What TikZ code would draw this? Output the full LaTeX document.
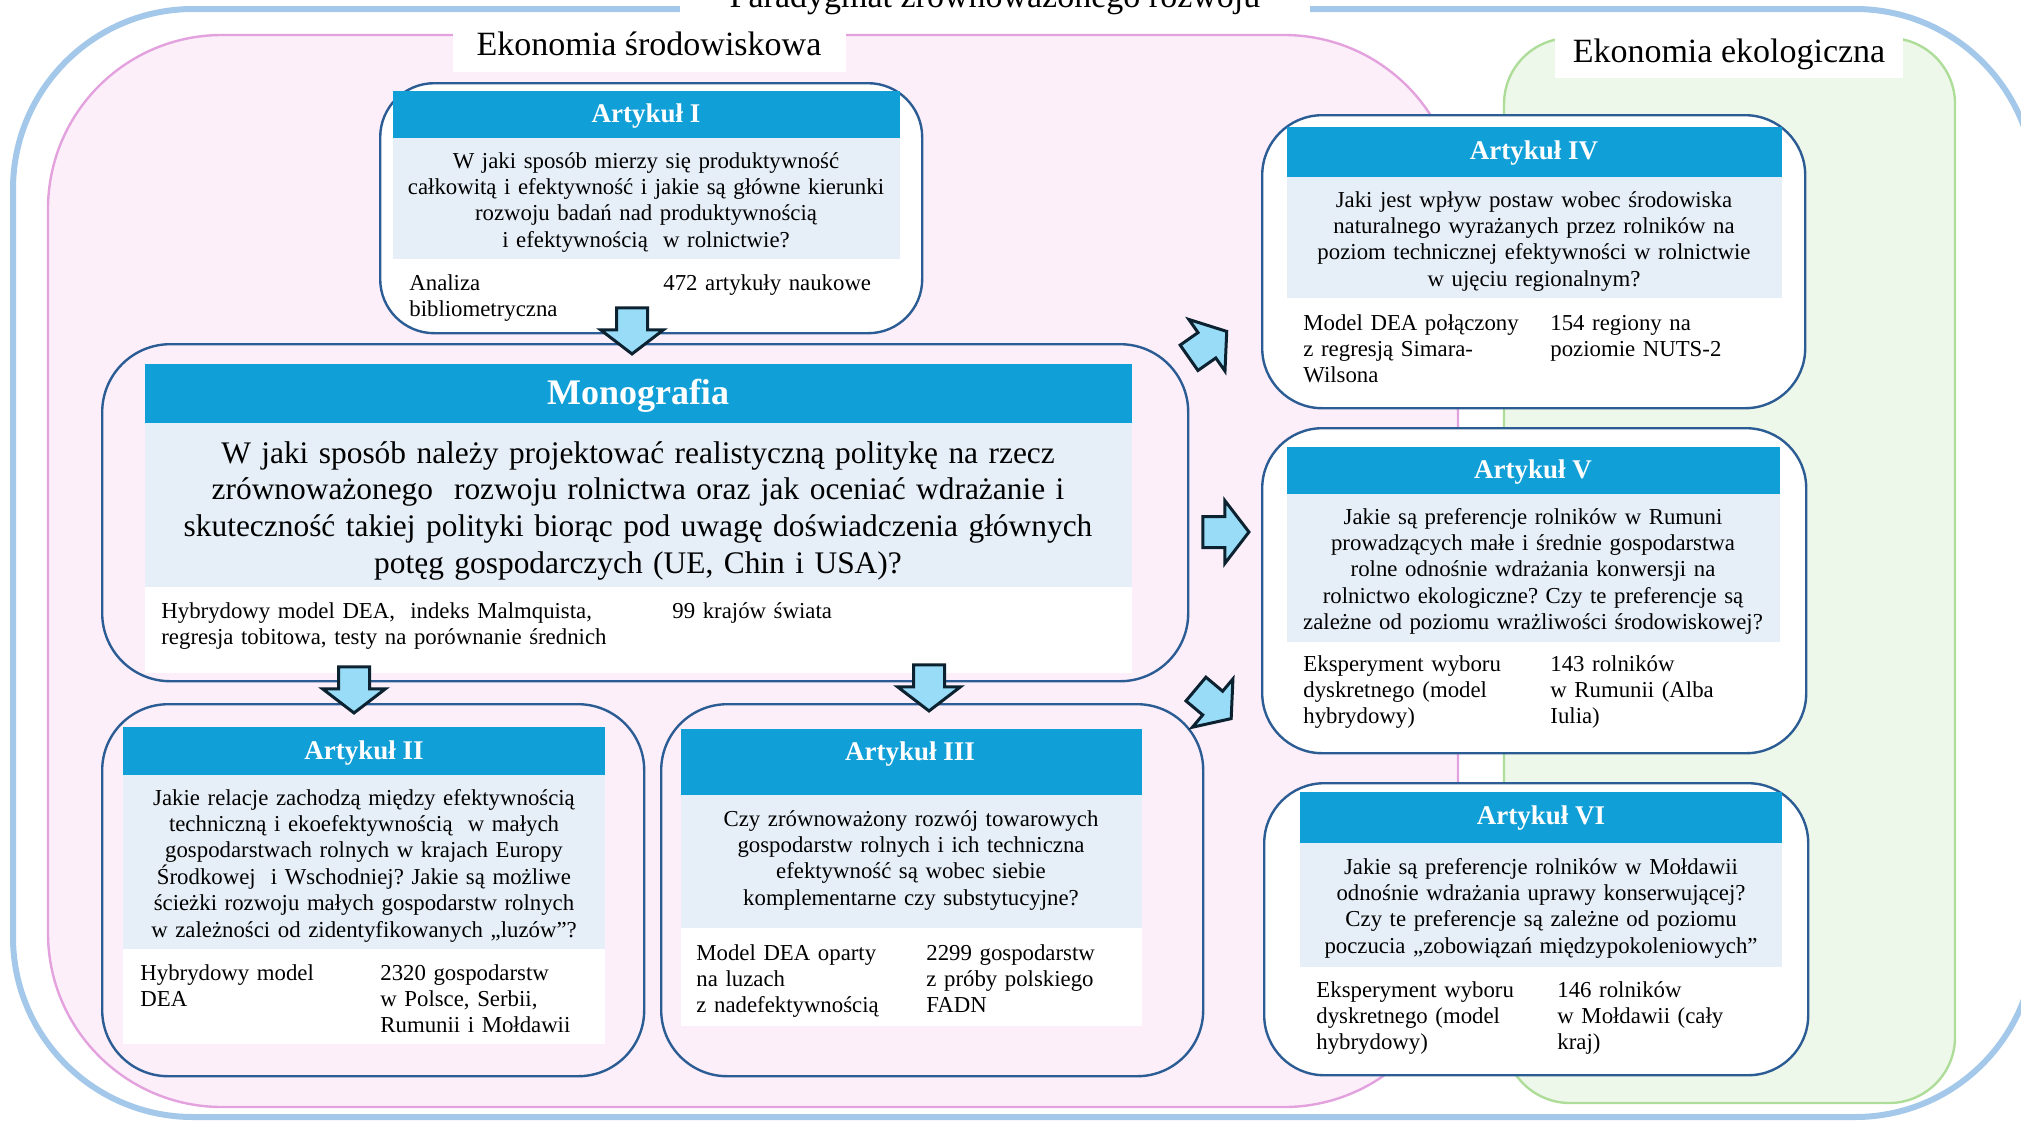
\documentclass[tikz,border=0pt]{standalone}
\usepackage{fontspec}
\setmainfont{Liberation Serif}
\usetikzlibrary{shapes.arrows}
\definecolor{outerblue}{HTML}{A4C8EA}
\definecolor{pinkfill}{HTML}{FCEFFA}
\definecolor{pinkline}{HTML}{E3A2DD}
\definecolor{greenfill}{HTML}{EEF8EA}
\definecolor{greenline}{HTML}{AEDD99}
\definecolor{boxline}{HTML}{2C5C94}
\definecolor{hdrblue}{HTML}{119FD7}
\definecolor{qfill}{HTML}{E6EEF7}
\definecolor{arrowfill}{HTML}{99DCF8}
\definecolor{arrowline}{HTML}{0D2230}
\frenchspacing
\begin{document}
\begin{tikzpicture}[x=0.5pt,y=-0.5pt,
  box/.style={draw=boxline,line width=1.2pt,rounded corners=30pt,inner sep=0pt,anchor=north west},
  qfont/.style={font=\fontsize{11.4}{13.2}\selectfont},
  qtext/.style={qfont,align=center,inner sep=0pt,anchor=base},
  mtext/.style={qfont,align=left,inner sep=0pt,anchor=base west,text width=125pt},
  htext/.style={font=\bfseries\fontsize{13.5}{16}\selectfont,text=white,inner sep=0pt},
  lbl/.style={font=\fontsize{17}{20}\selectfont,inner sep=0pt,anchor=base},
  barrow/.style={single arrow,draw=arrowline,fill=arrowfill,line width=1.5pt,inner sep=0pt,inner ysep=7pt,
    single arrow head extend=8pt,single arrow tip angle=105,minimum height=23pt}
]
\useasboundingbox (0,0) rectangle (2021,1120);
% outer frame
\draw[outerblue,line width=3pt,rounded corners=90pt] (13,9) rectangle (2035,1117);
\fill[white] (680,-5) rectangle (1310,22);
\node[lbl] (title) at (995,7) {Paradygmat zrównoważonego rozwoju};
% regions
\draw[pinkline,fill=pinkfill,line width=1.2pt,rounded corners=87pt] (48,35) rectangle (1458,1107);
\draw[greenline,fill=greenfill,line width=1.2pt,rounded corners=33pt] (1504,38) rectangle (1955,1103);
\fill[white] (453,32) rectangle (846,72);
\node[lbl] (envlbl) at (649,55) {Ekonomia środowiskowa};
\fill[white] (1555,28) rectangle (1903,78);
\node[lbl] (ecolbl) at (1729,62) {Ekonomia ekologiczna};

% ---------- Artykul I
\node[box,fill=white,rounded corners=27pt,minimum width=271pt,minimum height=125pt] (art1) at (379,82) {};
\fill[hdrblue] (393,91) rectangle (900,138);
\fill[qfill] (393,138) rectangle (900,259);
\node[htext] (h1) at (646,116) {Artykuł I};
\node[qtext,text width=253pt] (q1) at (646,168) {W jaki sposób mierzy się produktywność\\ całkowitą i efektywność i jakie są główne kierunki\\ rozwoju badań nad produktywnością\\ i efektywnością\ \ w rolnictwie?};
\node[mtext] (m1a) at (409,290) {Analiza\\bibliometryczna};
\node[mtext] (m1b) at (663,290) {472 artykuły naukowe};

% ---------- Monografia
\node[box,rounded corners=34pt,minimum width=543pt,minimum height=168.5pt] (mono) at (101,343) {};
\fill[hdrblue] (145,364) rectangle (1132,423);
\fill[qfill] (145,423) rectangle (1132,587);
\fill[white] (145,587) rectangle (1132,673);
\node[htext,font=\bfseries\fontsize{18}{21}\selectfont] (hm) at (638,396) {Monografia};
\node[qtext,font=\fontsize{15.7}{18.4}\selectfont,text width=493pt] (qm) at (638,463) {W jaki sposób należy projektować realistyczną politykę na rzecz\\ zrównoważonego\ \ rozwoju rolnictwa oraz jak oceniać wdrażanie i\\ skuteczność takiej polityki biorąc pod uwagę doświadczenia głównych\\ potęg gospodarczych (UE, Chin i USA)?};
\node[mtext,text width=250pt] (mma) at (161,618) {Hybrydowy model DEA,\ \ indeks Malmquista,\\ regresja tobitowa, testy na porównanie średnich};
\node[mtext] (mmb) at (672,618) {99 krajów świata};

% ---------- Artykul II
\node[box,rounded corners=33pt,minimum width=271pt,minimum height=186pt] (art2) at (101,703) {};
\fill[hdrblue] (123,727) rectangle (605,775);
\fill[qfill] (123,775) rectangle (605,949);
\fill[white] (123,949) rectangle (605,1044);
\node[htext] (h2) at (364,753) {Artykuł II};
\node[qtext,text width=241pt] (q2) at (364,805) {Jakie relacje zachodzą między efektywnością\\ techniczną i ekoefektywnością\ \ w małych\\ gospodarstwach rolnych w krajach Europy\\ Środkowej\ \ i Wschodniej? Jakie są możliwe\\ ścieżki rozwoju małych gospodarstw rolnych\\ w zależności od zidentyfikowanych „luzów”?};
\node[mtext] (m2a) at (140,980) {Hybrydowy model\\DEA};
\node[mtext] (m2b) at (380,980) {2320 gospodarstw\\w Polsce, Serbii,\\Rumunii i Mołdawii};

% ---------- Artykul III
\node[box,rounded corners=33pt,minimum width=271pt,minimum height=186pt] (art3) at (660,703) {};
\fill[hdrblue] (681,729) rectangle (1142,795);
\fill[qfill] (681,795) rectangle (1142,928);
\fill[white] (681,928) rectangle (1142,1026);
\node[htext] (h3) at (910,754) {Artykuł III};
\node[qtext,text width=230pt] (q3) at (911,826) {Czy zrównoważony rozwój towarowych\\ gospodarstw rolnych i ich techniczna\\ efektywność są wobec siebie\\ komplementarne czy substytucyjne?};
\node[mtext] (m3a) at (696,960) {Model DEA oparty\\na luzach\\z nadefektywnością};
\node[mtext] (m3b) at (926,960) {2299 gospodarstw\\z próby polskiego\\FADN};

% ---------- Artykul IV
\node[box,fill=white,minimum width=271.5pt,minimum height=146.5pt] (art4) at (1261,114) {};
\fill[hdrblue] (1287,127) rectangle (1782,177);
\fill[qfill] (1287,177) rectangle (1782,298);
\node[htext] (h4) at (1534,153) {Artykuł IV};
\node[qtext,text width=247pt] (q4) at (1534,207) {Jaki jest wpływ postaw wobec środowiska\\ naturalnego wyrażanych przez rolników na\\ poziom technicznej efektywności w rolnictwie\\ w ujęciu regionalnym?};
\node[mtext] (m4a) at (1303,330) {Model DEA połączony\\z regresją Simara-\\Wilsona};
\node[mtext] (m4b) at (1550,330) {154 regiony na\\poziomie NUTS-2};

% ---------- Artykul V
\node[box,fill=white,minimum width=272pt,minimum height=162.5pt] (art5) at (1261,427) {};
\fill[hdrblue] (1287,447) rectangle (1780,494);
\fill[qfill] (1287,494) rectangle (1780,642);
\node[htext] (h5) at (1533,472) {Artykuł V};
\node[qtext,text width=246pt] (q5) at (1533,524) {Jakie są preferencje rolników w Rumuni\\ prowadzących małe i średnie gospodarstwa\\ rolne odnośnie wdrażania konwersji na\\ rolnictwo ekologiczne? Czy te preferencje są\\ zależne od poziomu wrażliwości środowiskowej?};
\node[mtext] (m5a) at (1303,671) {Eksperyment wyboru\\dyskretnego (model\\hybrydowy)};
\node[mtext] (m5b) at (1550,671) {143 rolników\\w Rumunii (Alba\\Iulia)};

% ---------- Artykul VI
\node[box,fill=white,minimum width=272pt,minimum height=146pt] (art6) at (1263,782) {};
\fill[hdrblue] (1300,792) rectangle (1782,843);
\fill[qfill] (1300,843) rectangle (1782,967);
\node[htext] (h6) at (1541,818) {Artykuł VI};
\node[qtext,text width=241pt] (q6) at (1541,874) {Jakie są preferencje rolników w Mołdawii\\ odnośnie wdrażania uprawy konserwującej?\\ Czy te preferencje są zależne od poziomu\\ poczucia „zobowiązań międzypokoleniowych”};
\node[mtext] (m6a) at (1316,997) {Eksperyment wyboru\\dyskretnego (model\\hybrydowy)};
\node[mtext] (m6b) at (1557,997) {146 rolników\\w Mołdawii (cały\\kraj)};

% ---------- block arrows
\node[barrow,rotate=-90] (a1) at (632,325) {};
\node[barrow,rotate=-90] (a2) at (354,684) {};
\node[barrow,rotate=-90] (a3) at (929,682) {};
\node[barrow,rotate=35] (a4) at (1203,348) {};
\node[barrow] (a5) at (1220,532) {};
\node[barrow,rotate=-40] (a6) at (1209,700) {};
\end{tikzpicture}
\end{document}
